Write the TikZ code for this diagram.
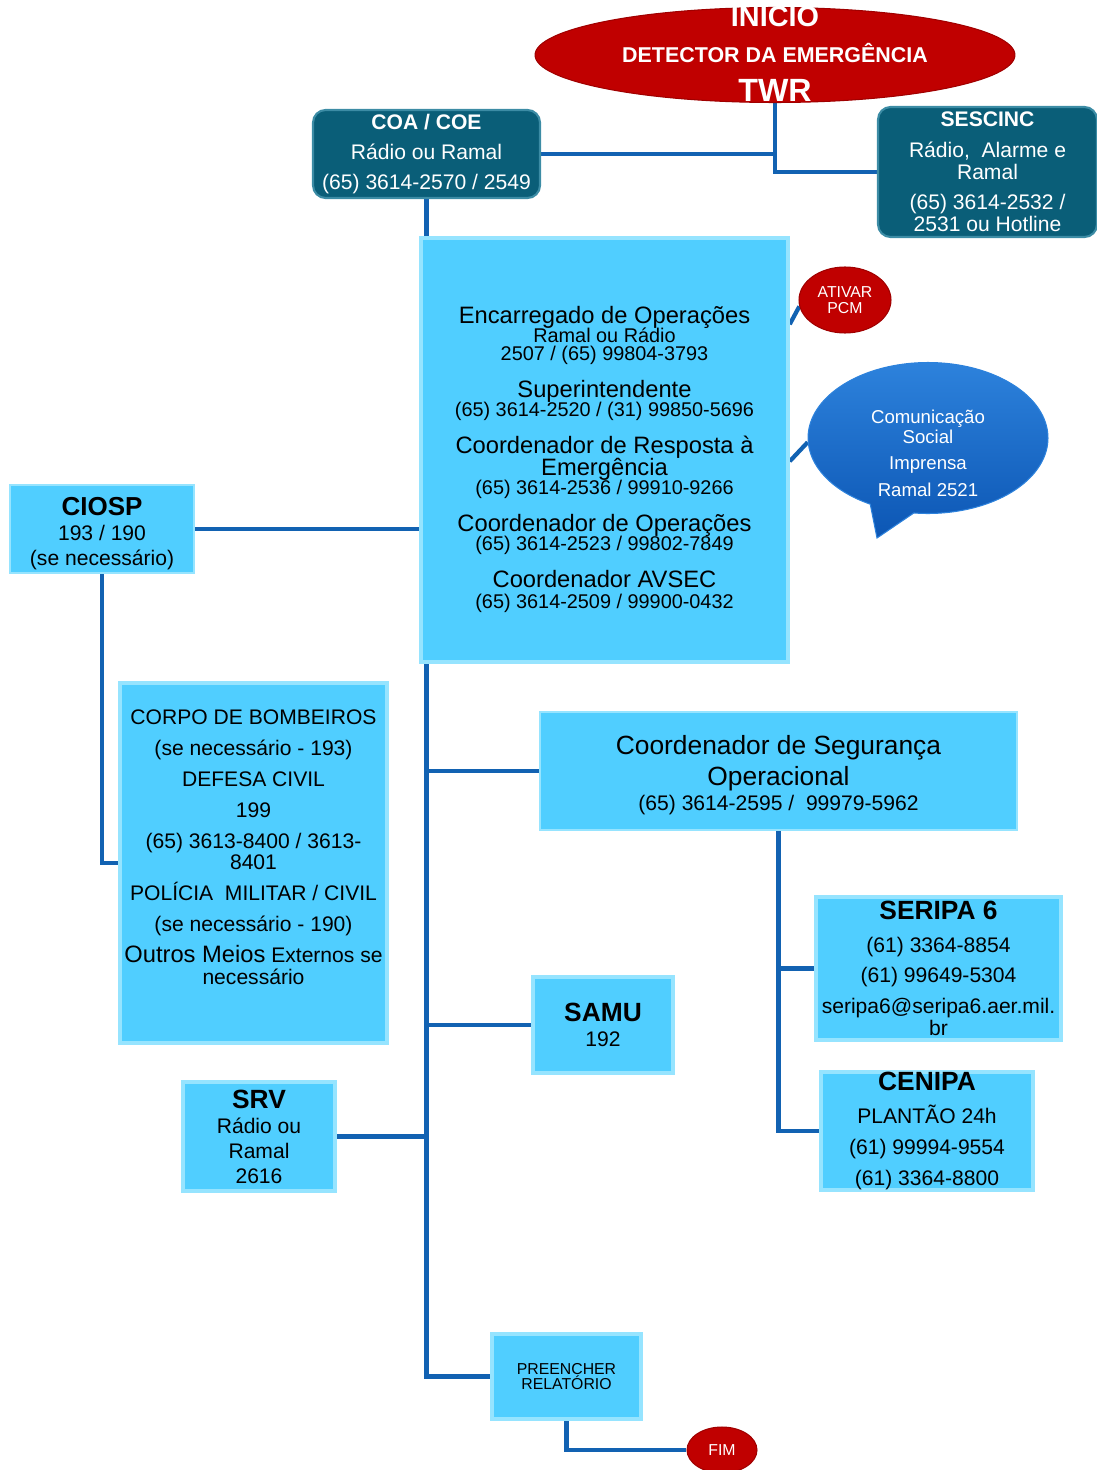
\documentclass[tikz,border=0pt]{standalone}
\usepackage{fontspec}
\setmainfont{Liberation Sans}
\usepackage{tikz}
\usetikzlibrary{shapes.geometric,shapes.callouts,backgrounds}

\definecolor{boxfill}{RGB}{80,206,255}
\definecolor{boxedge}{RGB}{150,228,255}
\definecolor{tealfill}{RGB}{10,94,120}
\definecolor{tealedge}{RGB}{60,140,165}
\definecolor{redfill}{RGB}{192,0,0}
\definecolor{reddark}{RGB}{160,0,0}
\definecolor{linkblue}{RGB}{18,98,178}
\definecolor{balloontop}{RGB}{45,130,220}
\definecolor{balloonbot}{RGB}{12,86,180}

\newcommand{\setfs}[2]{\fontsize{#1}{#2}\selectfont\lineskiplimit=-30pt\relax}
\newcommand{\headb}[1]{{\fontsize{15}{14}\selectfont\bfseries #1}}
\newcommand{\headr}[1]{{\fontsize{13.5}{10.5}\selectfont #1}}

\begin{document}
\begin{tikzpicture}[x=0.02cm, y=-0.02cm,
    bevelbox/.style={rectangle, fill=boxfill, draw=boxedge, line width=2pt, align=center, inner sep=0pt},
    flatbox/.style={rectangle, fill=boxfill, draw=boxedge, line width=0.8pt, align=center, inner sep=0pt},
    tealbox/.style={rectangle, rounded corners=0.25cm, fill=tealfill, draw=tealedge, line width=1.2pt, text=white, align=center, inner sep=0pt},
    redball/.style={ellipse, fill=redfill, draw=reddark, line width=0.6pt, text=white, align=center, inner sep=0pt},
    link/.style={draw=linkblue, line width=2.4pt}]
    \useasboundingbox (0,0) rectangle (1097,1470);

    \node[redball, minimum width=9.6cm, minimum height=1.9cm] (start) at (775,55) {};
    \node[text=white, align=center, font=\setfs{12.2}{20.5}\bfseries] (starttxt) at (775,54)
        {{\fontsize{16.4}{20.5}\selectfont INICIO}\\DETECTOR DA EMERGÊNCIA\\[1.5pt]{\fontsize{18.3}{20.5}\selectfont TWR}};

    \node[tealbox, minimum width=4.54cm, minimum height=1.76cm, font=\setfs{12}{12.5}] (coa) at (426.5,154)
        {\textbf{COA / COE}\\[5pt]Rádio ou Ramal\\[4.5pt](65) 3614-2570 / 2549};
    \node[tealbox, minimum width=4.38cm, minimum height=2.6cm, font=\setfs{12}{12.5}] (sescinc) at (987.5,172)
        {\textbf{SESCINC}\\[5pt]Rádio,~ Alarme e\\Ramal\\[4.5pt](65) 3614-2532 /\\2531 ou Hotline};

    \node[bevelbox, minimum width=7.34cm, minimum height=8.48cm, font=\setfs{11.3}{10.5}] (main) at (604.5,450)
        {{}\\[10.3pt]\headr{Encarregado de Operações}\\Ramal ou Rádio\\2507 / (65) 99804-3793\\[10.8pt]
         \headr{Superintendente}\\(65) 3614-2520 / (31) 99850-5696\\[10.8pt]
         \headr{Coordenador de Resposta à}\\[2pt]\headr{Emergência}\\(65) 3614-2536 / 99910-9266\\[10.8pt]
         \headr{Coordenador de Operações}\\(65) 3614-2523 / 99802-7849\\[10.8pt]
         \headr{Coordenador AVSEC}\\[1.7pt](65) 3614-2509 / 99900-0432};

    \node[redball, minimum width=1.84cm, minimum height=1.32cm, font=\setfs{9}{9}] (pcm) at (845,300) {ATIVAR\\PCM};

    \node[ellipse callout, callout absolute pointer={(877,538)}, callout pointer arc=22,
          top color=balloontop, bottom color=balloonbot, draw=balloontop, line width=0.6pt,
          inner sep=0pt, minimum width=4.8cm, minimum height=3.02cm] (com) at (928,438) {};
    \node[text=white, align=center, font=\setfs{10.6}{11.3}] (comtxt) at (928,453)
        {Comunicação\\Social\\[3.5pt]Imprensa\\[4pt]Ramal 2521};

    \node[flatbox, minimum width=3.68cm, minimum height=1.76cm, font=\setfs{12}{14.2}] (ciosp) at (102,529)
        {{}\\[0.9pt]{\fontsize{14.8}{14.2}\selectfont\bfseries CIOSP}\\193 / 190\\(se necessário)};

    \node[bevelbox, minimum width=5.34cm, minimum height=7.2cm, font=\setfs{12}{12.2}] (corpo) at (253.5,863)
        {CORPO DE BOMBEIROS\\[5.4pt](se necessário - 193)\\[5.4pt]DEFESA CIVIL\\[5.4pt]199\\[5.4pt]
         (65) 3613-8400 / 3613-\\8401\\[5.4pt]POLÍCIA~ MILITAR / CIVIL\\[5.4pt](se necessário - 190)\\[5.4pt]
         {\fontsize{13.5}{12.2}\selectfont Outros Meios} Externos se\\necessário\\[6pt]{}};

    \node[flatbox, minimum width=9.54cm, minimum height=2.36cm, font=\setfs{12}{14.2}] (cseg) at (778.5,771)
        {{}\\[1.2pt]{\fontsize{15}{14.2}\selectfont Coordenador de Segurança}\\[3.4pt]{\fontsize{15}{14.2}\selectfont Operacional}\\(65) 3614-2595 /~ 99979-5962};

    \node[bevelbox, minimum width=4.9cm, minimum height=2.86cm, font=\setfs{12}{12.5}] (seripa) at (938.5,968.5)
        {\headb{SERIPA 6}\\[6.3pt](61) 3364-8854\\[4.5pt](61) 99649-5304\\[5.1pt]seripa6@seripa6.aer.mil.\\br};
    \node[bevelbox, minimum width=4.24cm, minimum height=2.24cm, font=\setfs{12}{17.6}] (cenipa) at (927,1131)
        {\headb{CENIPA}\\[1.2pt]PLANTÃO 24h\\(61) 99994-9554\\(61) 3364-8800};

    \node[bevelbox, minimum width=2.8cm, minimum height=1.92cm, font=\setfs{12}{14.2}] (samu) at (603,1025) {\headb{SAMU}\\192};
    \node[bevelbox, minimum width=3.04cm, minimum height=2.18cm, font=\setfs{12}{14.2}] (srv) at (259,1136.5) {\headb{SRV}\\Rádio ou\\Ramal\\2616};

    \node[bevelbox, minimum width=2.98cm, minimum height=1.7cm, font=\setfs{9}{9}] (prel) at (566.5,1376.5) {PREENCHER\\RELATÓRIO};
    \node[redball, minimum width=1.4cm, minimum height=0.92cm, font=\setfs{9}{9}] (fim) at (722,1450) {FIM};

    \begin{scope}[on background layer]
        \draw[link] (start.south) -- (start.south |- sescinc.west) -- (sescinc.west);
        \draw[link] (coa.east) -- (coa.east -| start.south);
        \draw[link] (coa.south) -- (main.north -| coa.south);
        \draw[link] (main.south -| coa.south) -- (coa.south |- prel.west) -- (prel.west);
        \draw[link] (ciosp.east) -- (ciosp.east -| main.west);
        \draw[link] (ciosp.south) -- (ciosp.south |- corpo.west) -- (corpo.west);
        \draw[link] (cseg.west -| coa.south) -- (cseg.west);
        \draw[link] (samu.west -| coa.south) -- (samu.west);
        \draw[link] (srv.east) -- (srv.east -| coa.south);
        \draw[link] (cseg.south) -- (cseg.south |- cenipa.west) -- (cenipa.west);
        \draw[link] (cseg.south |- seripa.west) -- (seripa.west);
        \draw[link] (prel.south) -- (prel.south |- fim.west) -- (fim.west);
        \draw[link] (main.north east) ++(0,88) -- (pcm.188);
        \draw[link] (main.north east) ++(0,225) -- (com.182);
    \end{scope}
\end{tikzpicture}
\end{document}
